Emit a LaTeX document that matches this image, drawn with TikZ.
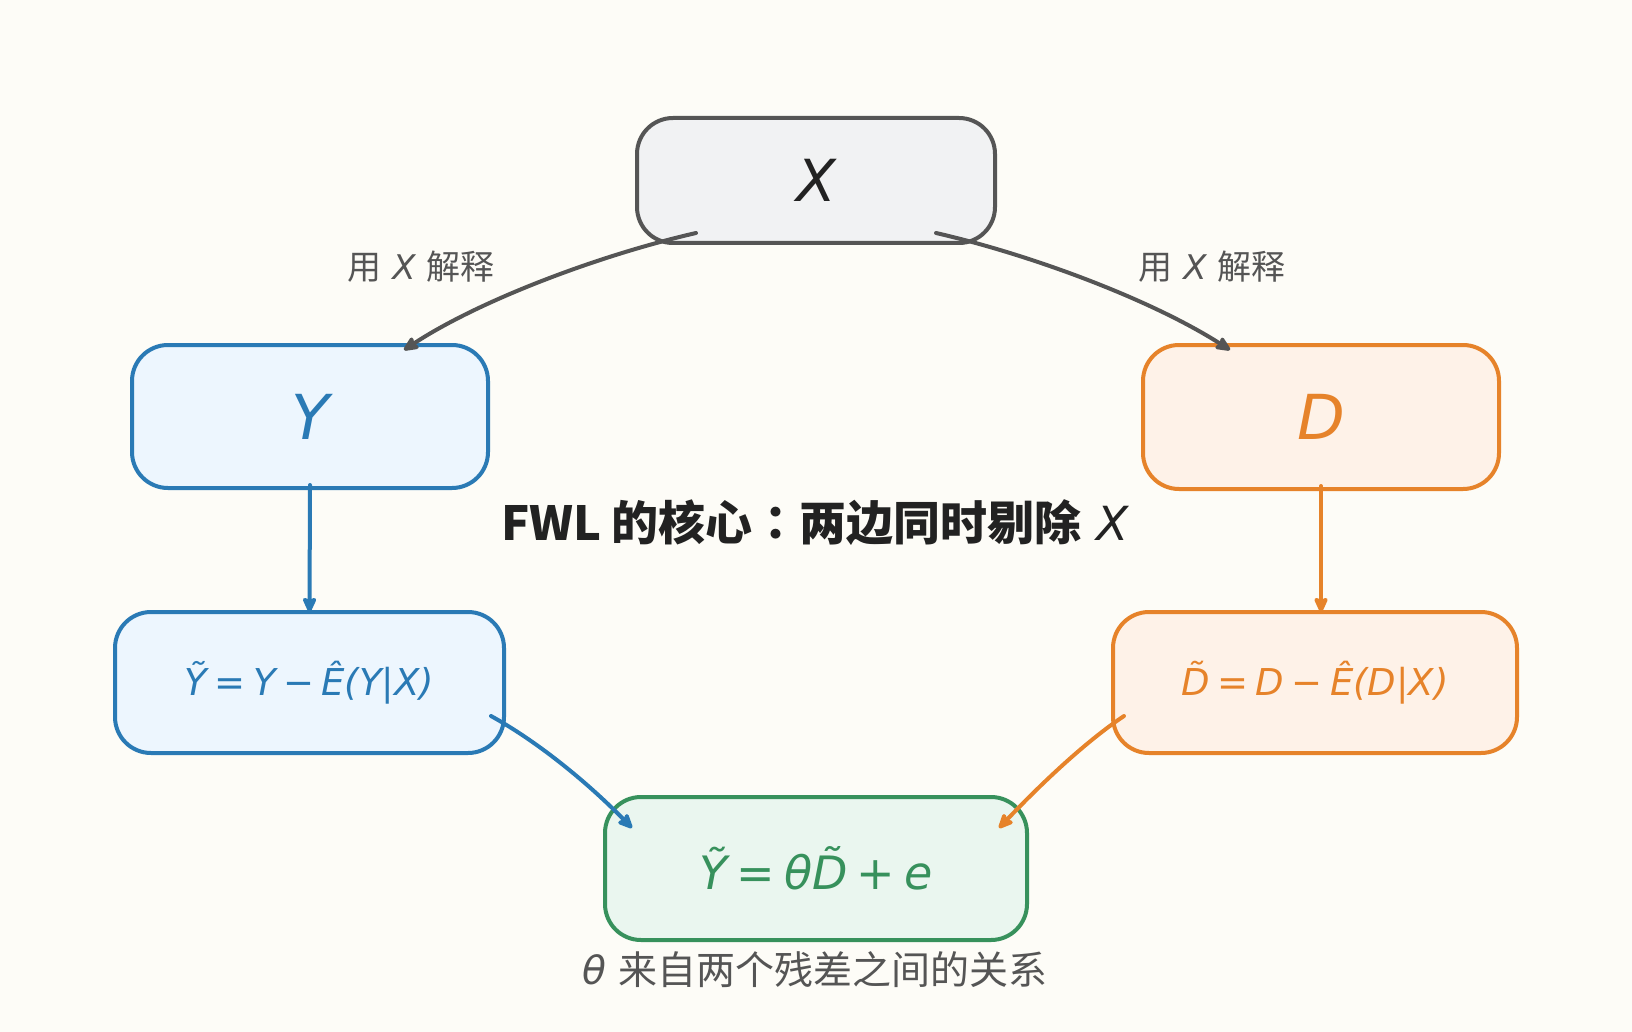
\documentclass[tikz,border=0pt]{standalone}
\usepackage{fontspec}
\setmainfont{DejaVu Sans}
\newfontfamily\cjk{Noto Sans CJK SC}
\newfontfamily\cjktc{Noto Sans CJK TC}
\usetikzlibrary{arrows.meta,calc}
\definecolor{bg}{HTML}{FDFCF7}
\definecolor{gline}{HTML}{555555}
\definecolor{gfill}{HTML}{F1F2F3}
\definecolor{bline}{HTML}{2A7AB5}
\definecolor{bfill}{HTML}{EDF6FE}
\definecolor{oline}{HTML}{E6832A}
\definecolor{ofill}{HTML}{FEF2E8}
\definecolor{nline}{HTML}{37915C}
\definecolor{nfill}{HTML}{EAF6EF}
\definecolor{ink}{HTML}{222222}
\newcommand{\myspc}{\hspace{0.2em}}
\tikzset{
  box/.style={draw, line width=2pt, rounded corners=18pt, outer sep=0pt, inner sep=0pt, align=center},
  conn/.style={line width=2pt, line cap=round, -{Stealth[length=9pt,width=8pt,inset=1.5pt,round]}},
}
\begin{document}
\begin{tikzpicture}[x=0.5pt,y=-0.5pt]
\fill[bg] (0,0) rectangle (1632,1032);
\useasboundingbox (0,0) rectangle (1632,1032);

\node[box, draw=gline, fill=gfill, minimum width=179pt, minimum height=62.5pt, text=ink,
  font=\fontsize{29}{32}\selectfont\itshape] (X) at (816,180.5) {X};
\node[box, draw=bline, fill=bfill, minimum width=178pt, minimum height=71.5pt, text=bline,
  font=\fontsize{31}{34}\selectfont\itshape] (Y) at (310,416.5) {Y};
\node[box, draw=oline, fill=ofill, minimum width=178pt, minimum height=72pt, text=oline,
  font=\fontsize{31}{34}\selectfont\itshape] (D) at (1321,417) {D};
\node[box, draw=bline, fill=bfill, minimum width=194.5pt, minimum height=70.5pt, text=bline,
  font=\fontsize{18.5}{22}\selectfont\itshape] (Yt) at (309.5,682.5) {\~{Y}\myspc{=}\myspc{}Y\myspc{−}\myspc\^{E}(Y|X)};
\node[box, draw=oline, fill=ofill, minimum width=202pt, minimum height=70.5pt, text=oline,
  font=\fontsize{18.5}{22}\selectfont\itshape] (Dt) at (1315,682.5) {\~{D}\myspc{=}\myspc{}D\myspc{−}\myspc\^{E}(D|X)};
\node[box, draw=nline, fill=nfill, minimum width=211pt, minimum height=71.5pt, text=nline,
  font=\fontsize{23}{26}\selectfont\itshape] (B) at (816,868.5) {\~{Y}\myspc{=}\myspc{}θ\~{D}\myspc{+}\myspc{}e};

\node[text=gline, font=\fontsize{17}{20}\selectfont] (lL) at (421,267) {{\cjk 用} {\itshape X} {\cjk 解释}};
\node[text=gline, font=\fontsize{17}{20}\selectfont] (lR) at (1212,267) {{\cjk 用} {\itshape X} {\cjk 解释}};
\node[text=ink, font=\fontsize{23.5}{28}\selectfont] (T) at (815,523) {{\cjk\bfseries FWL 的核心}{\cjktc\bfseries ：}{\cjk\bfseries 两边同时剔除} {\itshape X}};
\node[text=gline, font=\fontsize{19.5}{22}\selectfont] (C) at (815,970) {{\itshape θ} {\cjk 来自两个残差之间的关系}};

\draw[conn, gline] ([xshift=-60pt,yshift=5pt]X.south) .. controls (600,255) and (480,300) .. ([xshift=47pt,yshift=-2.5pt]Y.north);
\draw[conn, gline] ([xshift=60pt,yshift=5pt]X.south) .. controls (1032,255) and (1152,300) .. ([xshift=-45.5pt,yshift=-2.5pt]D.north);
\draw[conn, bline] ([yshift=1.5pt]Y.south) -- (Yt.north);
\draw[conn, oline] ([yshift=1.5pt]D.south) -- ([xshift=3pt]Dt.north);
\draw[conn, bline] ([xshift=-6.5pt,yshift=-16.75pt]Yt.east) .. controls (540,743) and (590,785) .. ([xshift=13.5pt,yshift=-15.5pt]B.north west);
\draw[conn, oline] ([xshift=5.5pt,yshift=-16.75pt]Dt.west) .. controls (1085,742) and (1040,785) .. ([xshift=-14pt,yshift=-15.5pt]B.north east);
\end{tikzpicture}
\end{document}
